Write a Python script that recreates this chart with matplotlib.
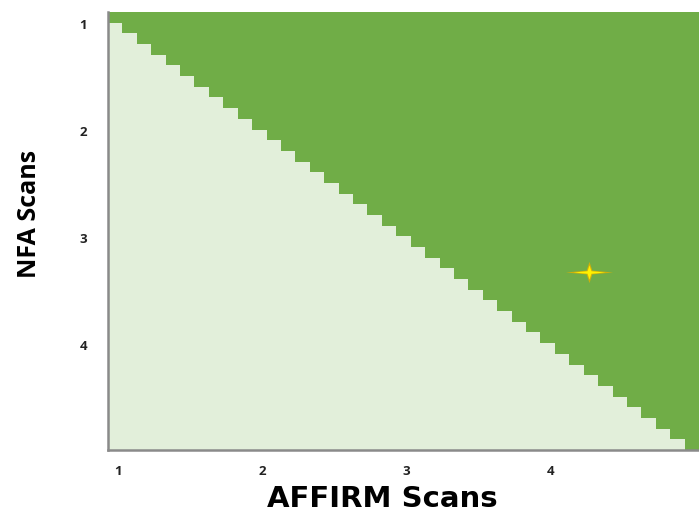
import numpy as np
import matplotlib
matplotlib.use("Agg")
import matplotlib.pyplot as plt
from matplotlib.colors import ListedColormap
from matplotlib.path import Path
from matplotlib import transforms

# grid of scan counts on both axes (0.1 steps read from the staircase)
affirm_scans = [1.0, 1.1, 1.2, 1.3, 1.4, 1.5, 1.6, 1.7, 1.8, 1.9,
                2.0, 2.1, 2.2, 2.3, 2.4, 2.5, 2.6, 2.7, 2.8, 2.9,
                3.0, 3.1, 3.2, 3.3, 3.4, 3.5, 3.6, 3.7, 3.8, 3.9,
                4.0, 4.1, 4.2, 4.3, 4.4, 4.5, 4.6, 4.7, 4.8, 4.9, 5.0]
nfa_scans = [1.0, 1.1, 1.2, 1.3, 1.4, 1.5, 1.6, 1.7, 1.8, 1.9,
             2.0, 2.1, 2.2, 2.3, 2.4, 2.5, 2.6, 2.7, 2.8, 2.9,
             3.0, 3.1, 3.2, 3.3, 3.4, 3.5, 3.6, 3.7, 3.8, 3.9,
             4.0, 4.1, 4.2, 4.3, 4.4, 4.5, 4.6, 4.7, 4.8, 4.9, 5.0]
tick_values = [1, 2, 3, 4]
tick_labels = ["1", "2", "3", "4"]

# the marked point
star_affirm = 4.29
star_nfa = 3.38

light_green = "#E2EFDA"
dark_green = "#70AD47"

a = np.array(affirm_scans)
n = np.array(nfa_scans)
# dark zone where NFA count <= AFFIRM count
zone = (n[:, None] <= a[None, :]).astype(int)

fig = plt.figure(figsize=(6.99, 5.12), dpi=100)
ax = fig.add_axes([108 / 699, 62 / 512, 591 / 699, 438 / 512])

ax.pcolormesh(a, n, zone, cmap=ListedColormap([light_green, dark_green]),
              shading="nearest", vmin=0, vmax=1)

# four pointed star, wide horizontal arms
verts = [(-1, 0), (-0.12, 0.08), (0, 0.45), (0.12, 0.08), (1, 0),
         (0.12, -0.08), (0, -0.45), (-0.12, -0.08), (-1, 0)]
star = Path(verts, [Path.MOVETO] + [Path.LINETO] * 7 + [Path.CLOSEPOLY])
ax.plot(star_affirm, star_nfa, marker=star, markersize=34, color="#E0B000",
        markeredgewidth=0, alpha=0.85)
ax.plot(star_affirm, star_nfa, marker=star, markersize=23, color="#FFF200",
        markeredgewidth=0)

ax.set_xlim(0.95, 5.05)
ax.set_ylim(5.05, 0.95)

ax.set_xticks(tick_values)
ax.set_xticklabels(tick_labels)
ax.set_yticks(tick_values)
ax.set_yticklabels(tick_labels)
ax.tick_params(length=0, labelsize=9.5, labelcolor="#222222")
ax.tick_params(axis="x", pad=11)
ax.tick_params(axis="y", pad=15)
for lab in ax.get_xticklabels() + ax.get_yticklabels():
    lab.set_fontweight("bold")
    lab.set_fontfamily("Open Sans")
dx = transforms.ScaledTranslation(3 / 100, 0, fig.dpi_scale_trans)
for lab in ax.get_xticklabels():
    lab.set_transform(lab.get_transform() + dx)
dy = transforms.ScaledTranslation(0, -7 / 100, fig.dpi_scale_trans)
for lab in ax.get_yticklabels():
    lab.set_transform(lab.get_transform() + dy)

ax.set_xlabel("AFFIRM Scans", fontsize=21, fontweight="bold",
              fontfamily="DejaVu Sans")
ax.set_ylabel("NFA Scans", fontsize=18, fontweight="bold",
              fontfamily="Open Sans")
ax.xaxis.set_label_coords(0.464, -0.08)
ax.yaxis.set_label_coords(-0.112, 0.54)

for side in ["top", "right"]:
    ax.spines[side].set_visible(False)
for side in ["left", "bottom"]:
    ax.spines[side].set_color("#8a8a8a")
    ax.spines[side].set_linewidth(1.8)

fig.savefig("out.png", dpi=100)
